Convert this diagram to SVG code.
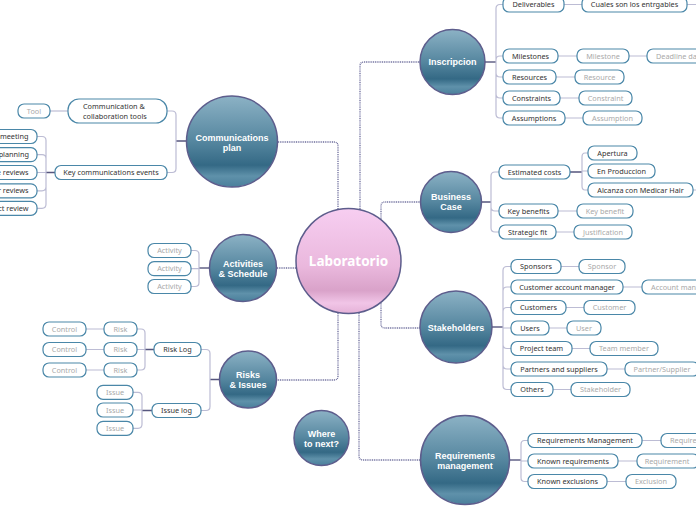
<svg xmlns="http://www.w3.org/2000/svg" width="696" height="520" viewBox="0 0 696 520">
<defs>
<linearGradient id="gb" x1="0" y1="0" x2="0" y2="1">
<stop offset="0" stop-color="#8cb2c5"/>
<stop offset="0.5" stop-color="#55869f"/>
<stop offset="0.76" stop-color="#346985"/>
<stop offset="0.88" stop-color="#5f91aa"/>
<stop offset="1" stop-color="#4a7f9b"/>
</linearGradient>
<linearGradient id="gp" x1="0" y1="0" x2="0" y2="1">
<stop offset="0" stop-color="#f7cef1"/>
<stop offset="0.55" stop-color="#eab8dd"/>
<stop offset="0.78" stop-color="#d9a2c9"/>
<stop offset="0.9" stop-color="#f1c5e7"/>
<stop offset="1" stop-color="#e4b1d7"/>
</linearGradient>
<style>
.c{fill:url(#gb);stroke:#5d5d8c;stroke-width:1.5}
.cp{fill:url(#gp);stroke:#5d5d8c;stroke-width:1.5}
.ct{font-family:"Liberation Sans","Noto Sans",sans-serif;font-weight:bold;font-size:9px;fill:#fff;text-anchor:middle}
.b{fill:#fff;stroke:#4a87a8;stroke-width:1.2}
.t{font-family:"Noto Sans","Open Sans",sans-serif;font-size:7.3px;fill:#333;text-anchor:middle}
.s{font-family:"Noto Sans","Open Sans",sans-serif;font-size:7.3px;fill:#a9a9a9;text-anchor:middle}
.d{fill:none;stroke:#6d6d9c;stroke-width:1.3;stroke-dasharray:1 0.8}
.l{fill:none;stroke:#bcbcd4;stroke-width:1.2}
.k{fill:none;stroke:#56567e;stroke-width:1.4}
</style>
</defs>
<rect width="696" height="520" fill="#fff"/>
<g id="connectors">
<path class="d" d="M278,142 H334 Q338,142 338,146 V210"/>
<path class="d" d="M360,209 V66 Q360,62 364,62 H420"/>
<path class="d" d="M381,221 V206 Q381,202 385,202 H420"/>
<path class="d" d="M277,268 H296"/>
<path class="d" d="M381,301 V324 Q381,328 385,328 H420"/>
<path class="d" d="M338,313 V376 Q338,380 334,380 H277"/>
<path class="d" d="M359,313 V456 Q359,460 363,460 H420"/>
<path class="k" d="M485,62 H496"/>
<path class="l" d="M496,62 V8.5 Q496,4.5 500,4.5 H503 M496,62 V60 Q496,56 500,56 H503 M496,62 V73 Q496,77 500,77 H503 M496,62 V94 Q496,98 500,98 H503 M496,62 V114 Q496,118 500,118 H503"/>
<path class="l" d="M564,4.5 H582 M687,4.5 H700 M558,56 H577 M629,56 H647 M556,77 H575 M560,98 H579 M565,118 H583"/>
<path class="k" d="M482,202 H491 M570,172 H582"/>
<path class="l" d="M491,202 V176 Q491,172 495,172 H499 M491,202 V207 Q491,211 495,211 H499 M491,202 V228 Q491,232 495,232 H499"/>
<path class="l" d="M582,172 V157 Q582,153 585,153 H588 M582,172 V171 H588 M582,172 V186 Q582,190 585,190 H588"/>
<path class="l" d="M693,190 H700 M558,211 H577 M556,232 H574"/>
<path class="k" d="M492,327 H503"/>
<path class="l" d="M503,327 V270.5 Q503,266.5 507,266.5 H511 M503,327 V291 Q503,287 507,287 H511 M503,327 V311.5 Q503,307.5 507,307.5 H511 M503,327 V328 H511 M503,327 V344.5 Q503,348.5 507,348.5 H511 M503,327 V365 Q503,369 507,369 H511 M503,327 V385.5 Q503,389.5 507,389.5 H511"/>
<path class="l" d="M561,266.5 H579 M623,287 H642 M566,307.5 H584 M549,328 H567 M572,348.5 H590 M607,369 H625 M553,389.5 H571"/>
<path class="k" d="M509,460 H521"/>
<path class="l" d="M521,460 V444.5 Q521,440.5 524.5,440.5 H528 M521,460 V461 H528 M521,460 V477.5 Q521,481.5 524.5,481.5 H528"/>
<path class="l" d="M642,440.5 H661 M618,461 H637 M607,481.5 H626"/>
<path class="k" d="M186,141 H176 M55,172.5 H46"/>
<path class="l" d="M176,141 V115 Q176,111 172,111 H167 M176,141 V168.5 Q176,172.5 172,172.5 H167"/>
<path class="l" d="M50,111 H68"/>
<path class="l" d="M46,172.5 V140.5 Q46,136.5 42,136.5 H37 M46,172.5 V158.7 Q46,154.7 42,154.7 H37 M46,172.5 H37 M46,172.5 V186.8 Q46,190.8 42,190.8 H37 M46,172.5 V204.3 Q46,208.3 42,208.3 H37"/>
<path class="k" d="M209,268 H199"/>
<path class="l" d="M199,268 V254.5 Q199,250.5 195,250.5 H191 M199,268 V268.7 H191 M199,268 V282.5 Q199,286.5 195,286.5 H191"/>
<path class="k" d="M219,379.5 H210 M154,349.5 H145 M152,410.5 H142"/>
<path class="l" d="M210,379.5 V353.5 Q210,349.5 206,349.5 H201 M210,379.5 V406.5 Q210,410.5 206,410.5 H201"/>
<path class="l" d="M145,349.5 V333 Q145,329 141,329 H137 M145,349.5 H137 M145,349.5 V366 Q145,370 141,370 H137"/>
<path class="l" d="M86,329 H104 M86,349.5 H104 M86,370 H104"/>
<path class="l" d="M142,410.5 V396.3 Q142,392.3 138,392.3 H133 M142,410.5 V410 H133 M142,410.5 V424.3 Q142,428.3 138,428.3 H133"/>
</g>
<g id="laboratorio"><circle class="cp" cx="348.5" cy="261" r="52.5"/><text x="348.5" y="266" style="font-family:'Noto Sans','Open Sans',sans-serif;font-weight:bold;font-size:13.5px;fill:#fff;text-anchor:middle">Laboratorio</text></g>
<g id="inscripcion"><circle class="c" cx="452.5" cy="62" r="32.5"/><text class="ct" x="452.5" y="65">Inscripcion</text></g>
<g id="business-case"><circle class="c" cx="451" cy="202" r="30.5"/><text class="ct" x="451" y="200">Business</text><text class="ct" x="451" y="210">Case</text></g>
<g id="stakeholders"><circle class="c" cx="456" cy="327" r="36"/><text class="ct" x="456" y="331">Stakeholders</text></g>
<g id="requirements-management"><circle class="c" cx="465" cy="460" r="44.5"/><text class="ct" x="465" y="459">Requirements</text><text class="ct" x="465" y="469">management</text></g>
<g id="communications-plan"><circle class="c" cx="232" cy="141.5" r="45.5"/><text class="ct" x="232" y="141">Communications</text><text class="ct" x="232" y="151">plan</text></g>
<g id="activities-schedule"><circle class="c" cx="243" cy="268" r="33.5"/><text class="ct" x="243" y="267">Activities</text><text class="ct" x="243" y="277">&amp; Schedule</text></g>
<g id="risks-issues"><circle class="c" cx="248" cy="379.5" r="28.5"/><text class="ct" x="248" y="378">Risks</text><text class="ct" x="248" y="388">&amp; Issues</text></g>
<g id="where-to-next"><circle class="c" cx="321.5" cy="438" r="27.5"/><text class="ct" x="321.5" y="437">Where</text><text class="ct" x="321.5" y="447">to next?</text></g>
<g id="deliverables"><rect class="b" x="503" y="-3" width="61" height="15" rx="6"/><text class="t" x="533.5" y="7">Deliverables</text></g>
<g id="cuales"><rect class="b" x="582" y="-3" width="105" height="15" rx="6"/><text class="t" x="634.5" y="7">Cuales son los entrgables</text></g>
<g id="milestones"><rect class="b" x="503" y="49" width="55" height="14" rx="6"/><text class="t" x="530.5" y="58.6">Milestones</text></g>
<g id="milestone"><rect class="b" x="577" y="49" width="52" height="14" rx="6"/><text class="s" x="603" y="58.6">Milestone</text></g>
<g id="deadline"><rect class="b" x="647" y="49" width="70" height="14" rx="6"/><text class="s" x="656" y="58.6" style="text-anchor:start">Deadline da</text></g>
<g id="resources"><rect class="b" x="503" y="70" width="53" height="14" rx="6"/><text class="t" x="529.5" y="79.6">Resources</text></g>
<g id="resource"><rect class="b" x="575" y="70" width="49" height="14" rx="6"/><text class="s" x="599.5" y="79.6">Resource</text></g>
<g id="constraints"><rect class="b" x="503" y="91" width="57" height="14" rx="6"/><text class="t" x="531.5" y="100.6">Constraints</text></g>
<g id="constraint"><rect class="b" x="579" y="91" width="53" height="14" rx="6"/><text class="s" x="605.5" y="100.6">Constraint</text></g>
<g id="assumptions"><rect class="b" x="503" y="111" width="62" height="14" rx="6"/><text class="t" x="534" y="120.6">Assumptions</text></g>
<g id="assumption"><rect class="b" x="583" y="111" width="59" height="14" rx="6"/><text class="s" x="612.5" y="120.6">Assumption</text></g>
<g id="estimated-costs"><rect class="b" x="499" y="165" width="71" height="14" rx="6"/><text class="t" x="534.5" y="174.6">Estimated costs</text></g>
<g id="apertura"><rect class="b" x="588" y="146" width="49" height="14" rx="6"/><text class="t" x="612.5" y="155.6">Apertura</text></g>
<g id="en-produccion"><rect class="b" x="588" y="164" width="67" height="14" rx="6"/><text class="t" x="621.5" y="173.6">En Produccion</text></g>
<g id="alcanza"><rect class="b" x="588" y="183" width="105" height="14" rx="6"/><text class="t" x="640.5" y="192.6">Alcanza con Medicar Hair</text></g>
<g id="key-benefits"><rect class="b" x="499" y="204" width="59" height="14" rx="6"/><text class="t" x="528.5" y="213.6">Key benefits</text></g>
<g id="key-benefit"><rect class="b" x="577" y="204" width="56" height="14" rx="6"/><text class="s" x="605" y="213.6">Key benefit</text></g>
<g id="strategic-fit"><rect class="b" x="499" y="225" width="57" height="14" rx="6"/><text class="t" x="527.5" y="234.6">Strategic fit</text></g>
<g id="justification"><rect class="b" x="574" y="225" width="58" height="14" rx="6"/><text class="s" x="603" y="234.6">Justification</text></g>
<g id="sponsors"><rect class="b" x="511" y="259.5" width="50" height="14" rx="6"/><text class="t" x="536" y="269.1">Sponsors</text></g>
<g id="sponsor"><rect class="b" x="579" y="259.5" width="46" height="14" rx="6"/><text class="s" x="602" y="269.1">Sponsor</text></g>
<g id="customer-account-manager"><rect class="b" x="511" y="280" width="112" height="14" rx="6"/><text class="t" x="567" y="289.6">Customer account manager</text></g>
<g id="account-manager"><rect class="b" x="642" y="280" width="70" height="14" rx="6"/><text class="s" x="651" y="289.6" style="text-anchor:start">Account mana</text></g>
<g id="customers"><rect class="b" x="511" y="300.5" width="55" height="14" rx="6"/><text class="t" x="538.5" y="310.1">Customers</text></g>
<g id="customer"><rect class="b" x="584" y="300.5" width="51" height="14" rx="6"/><text class="s" x="609.5" y="310.1">Customer</text></g>
<g id="users"><rect class="b" x="511" y="321" width="38" height="14" rx="6"/><text class="t" x="530" y="330.6">Users</text></g>
<g id="user"><rect class="b" x="567" y="321" width="34" height="14" rx="6"/><text class="s" x="584" y="330.6">User</text></g>
<g id="project-team"><rect class="b" x="511" y="341.5" width="61" height="14" rx="6"/><text class="t" x="541.5" y="351.1">Project team</text></g>
<g id="team-member"><rect class="b" x="590" y="341.5" width="68" height="14" rx="6"/><text class="s" x="624" y="351.1">Team member</text></g>
<g id="partners"><rect class="b" x="511" y="362" width="96" height="14" rx="6"/><text class="t" x="559" y="371.6">Partners and suppliers</text></g>
<g id="partner-supplier"><rect class="b" x="625" y="362" width="74" height="14" rx="6"/><text class="s" x="662" y="371.6">Partner/Supplier</text></g>
<g id="others"><rect class="b" x="511" y="382.5" width="42" height="14" rx="6"/><text class="t" x="532" y="392.1">Others</text></g>
<g id="stakeholder"><rect class="b" x="571" y="382.5" width="59" height="14" rx="6"/><text class="s" x="600.5" y="392.1">Stakeholder</text></g>
<g id="requirements-mgmt"><rect class="b" x="528" y="433.5" width="114" height="14" rx="6"/><text class="t" x="585" y="443.1">Requirements Management</text></g>
<g id="require"><rect class="b" x="661" y="433.5" width="60" height="14" rx="6"/><text class="s" x="670" y="443.1" style="text-anchor:start">Require</text></g>
<g id="known-requirements"><rect class="b" x="528" y="454" width="90" height="14" rx="6"/><text class="t" x="573" y="463.6">Known requirements</text></g>
<g id="requirement"><rect class="b" x="637" y="454" width="62" height="14" rx="6"/><text class="s" x="667" y="463.6">Requirement</text></g>
<g id="known-exclusions"><rect class="b" x="528" y="474.5" width="79" height="14" rx="6"/><text class="t" x="567.5" y="484.1">Known exclusions</text></g>
<g id="exclusion"><rect class="b" x="626" y="474.5" width="50" height="14" rx="6"/><text class="s" x="651" y="484.1">Exclusion</text></g>
<g id="comm-tools"><rect class="b" x="68" y="99" width="99" height="24" rx="11"/><text class="t" x="83" y="109" style="text-anchor:start">Communication &amp;</text><text class="t" x="83" y="119" style="text-anchor:start">collaboration tools</text></g>
<g id="tool"><rect class="b" x="18" y="104" width="32" height="14" rx="6"/><text class="s" x="34" y="113.6">Tool</text></g>
<g id="key-comm-events"><rect class="b" x="55" y="165.5" width="112" height="14" rx="6"/><text class="t" x="111" y="175.1">Key communications events</text></g>
<g id="ev1"><rect class="b" x="-40" y="129.5" width="77" height="14" rx="6"/><text class="t" x="28.5" y="139.1" style="text-anchor:end">meeting</text></g>
<g id="ev2"><rect class="b" x="-40" y="147.7" width="77" height="14" rx="6"/><text class="t" x="29" y="157.3" style="text-anchor:end">planning</text></g>
<g id="ev3"><rect class="b" x="-40" y="165.5" width="77" height="14" rx="6"/><text class="t" x="28.5" y="175.1" style="text-anchor:end">e reviews</text></g>
<g id="ev4"><rect class="b" x="-40" y="183.8" width="77" height="14" rx="6"/><text class="t" x="28.5" y="193.4" style="text-anchor:end">r reviews</text></g>
<g id="ev5"><rect class="b" x="-40" y="201.3" width="77" height="14" rx="6"/><text class="t" x="28.5" y="210.9" style="text-anchor:end">ct review</text></g>
<g id="activity1"><rect class="b" x="148" y="243.5" width="43" height="14" rx="6"/><text class="s" x="169.5" y="253.1">Activity</text></g>
<g id="activity2"><rect class="b" x="148" y="261.7" width="43" height="14" rx="6"/><text class="s" x="169.5" y="271.3">Activity</text></g>
<g id="activity3"><rect class="b" x="148" y="279.5" width="43" height="14" rx="6"/><text class="s" x="169.5" y="289.1">Activity</text></g>
<g id="risk-log"><rect class="b" x="154" y="342.5" width="47" height="14" rx="6"/><text class="t" x="177.5" y="352.1">Risk Log</text></g>
<g id="issue-log"><rect class="b" x="152" y="403.5" width="49" height="14" rx="6"/><text class="t" x="176.5" y="413.1">Issue log</text></g>
<g id="risk1"><rect class="b" x="104" y="322" width="33" height="14" rx="6"/><text class="s" x="120.5" y="331.6">Risk</text></g>
<g id="risk2"><rect class="b" x="104" y="342.5" width="33" height="14" rx="6"/><text class="s" x="120.5" y="352.1">Risk</text></g>
<g id="risk3"><rect class="b" x="104" y="363" width="33" height="14" rx="6"/><text class="s" x="120.5" y="372.6">Risk</text></g>
<g id="control1"><rect class="b" x="43" y="322" width="43" height="14" rx="6"/><text class="s" x="64.5" y="331.6">Control</text></g>
<g id="control2"><rect class="b" x="43" y="342.5" width="43" height="14" rx="6"/><text class="s" x="64.5" y="352.1">Control</text></g>
<g id="control3"><rect class="b" x="43" y="363" width="43" height="14" rx="6"/><text class="s" x="64.5" y="372.6">Control</text></g>
<g id="issue1"><rect class="b" x="97" y="385.3" width="36" height="14" rx="6"/><text class="s" x="115" y="394.9">Issue</text></g>
<g id="issue2"><rect class="b" x="97" y="403" width="36" height="14" rx="6"/><text class="s" x="115" y="412.6">Issue</text></g>
<g id="issue3"><rect class="b" x="97" y="421.3" width="36" height="14" rx="6"/><text class="s" x="115" y="430.9">Issue</text></g>
</svg>
